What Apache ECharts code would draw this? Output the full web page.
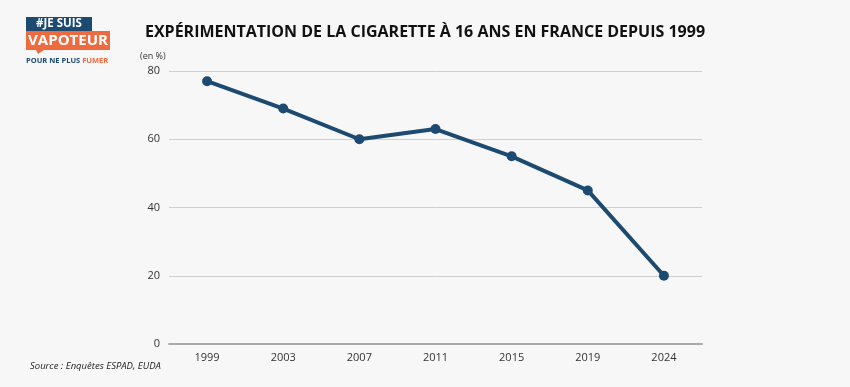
<!DOCTYPE html>
<html><head><meta charset="utf-8">
<script src="https://cdn.jsdelivr.net/npm/echarts@6/dist/echarts.min.js"></script>
<style>html,body{margin:0;padding:0;background:#f7f7f7}#c{width:850px;height:387px}</style>
</head><body><div id="c"></div>
<script>
const categories = ['1999','2003','2007','2011','2015','2019','2024'];
const values = [77, 69, 60, 63, 55, 45, 20];
const yTicks = [0, 20, 40, 60, 80];
const chart = echarts.init(document.getElementById('c'));
const F = '"Open Sans", sans-serif';
chart.setOption({
  backgroundColor: '#f7f7f7',
  animation: false,
  title: {
    text: 'EXPÉRIMENTATION DE LA CIGARETTE À 16 ANS EN FRANCE DEPUIS 1999',
    left: 420, top: 19, textAlign: 'center',
    textStyle: { fontFamily: F, fontWeight: 'bold', fontSize: 16, color: '#111' }
  },
  grid: { left: 169, right: 148, top: 71, bottom: 43 },
  xAxis: {
    type: 'category', data: categories, boundaryGap: true,
    axisLine: { lineStyle: { color: '#aaa', width: 2 } },
    axisTick: { show: false },
    axisLabel: { fontFamily: F, fontSize: 11, color: '#333', margin: 8 }
  },
  yAxis: {
    type: 'value', min: yTicks[0], max: yTicks[yTicks.length-1], interval: 20,
    axisLine: { show: false }, axisTick: { show: false },
    axisLabel: { fontFamily: F, fontSize: 11, color: '#333', margin: 9 },
    splitLine: { lineStyle: { color: '#cfcfcf', width: 1 } }
  },
  series: [{
    type: 'line', data: values,
    lineStyle: { color: '#1c4a70', width: 4 },
    itemStyle: { color: '#1c4a70' },
    symbol: 'circle', symbolSize: 10
  }],
  graphic: [
    { type: 'text', left: 140, top: 52, style: { text: '(en %)', font: '9px "Open Sans", sans-serif', fill: '#333' } },
    { type: 'text', left: 30, top: 361, style: { text: 'Source : Enquêtes ESPAD, EUDA', font: 'italic 9.5px "Open Sans", sans-serif', fill: '#222' } },
    { type: 'rect', shape: { x: 26, y: 17, width: 66, height: 14 }, style: { fill: '#1c4a70' } },
    { type: 'text', x: 59, y: 24, style: { text: '#JE SUIS', font: 'bold 11.5px "Open Sans", sans-serif', fill: '#fff', align: 'center', verticalAlign: 'middle' } },
    { type: 'rect', shape: { x: 26, y: 31, width: 84, height: 19 }, style: { fill: '#ee6a3f' } },
    { type: 'polygon', shape: { points: [[36,50],[44,50],[38,54]] }, style: { fill: '#ee6a3f' } },
    { type: 'text', x: 68, y: 41, style: { text: 'VAPOTEUR', font: 'bold 15px "Open Sans", sans-serif', fill: '#fff', align: 'center', verticalAlign: 'middle' } },
    { type: 'text', x: 26, y: 61, style: { rich: { b: { fill: '#1c4a70', font: 'bold 7.5px "Open Sans", sans-serif' }, o: { fill: '#ee6a3f', font: 'bold 7.5px "Open Sans", sans-serif' } }, text: '{b|POUR NE PLUS }{o|FUMER}', verticalAlign: 'middle' } }
  ]
});
</script></body></html>
